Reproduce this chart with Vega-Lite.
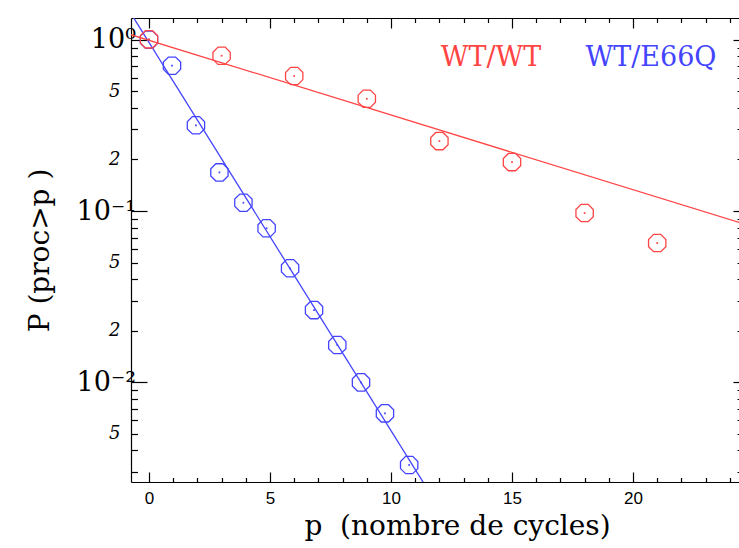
{
  "$schema": "https://vega.github.io/schema/vega-lite/v6.json",
  "width": 608,
  "height": 464,
  "autosize": {"type": "none"},
  "padding": {"left": 131, "top": 18, "right": 0, "bottom": 66},
  "background": "white",
  "config": {"view": {"stroke": null}, "axis": {"grid": false, "domainColor": "black", "tickColor": "black", "labelColor": "black", "titleColor": "black", "domainWidth": 1.2, "tickWidth": 1.2}},
  "datasets": {
    "points": [
      {"p": 0, "P": 1.0, "series": "WT/E66Q"},
      {"p": 0.95, "P": 0.705, "series": "WT/E66Q"},
      {"p": 1.94, "P": 0.3165, "series": "WT/E66Q"},
      {"p": 2.91, "P": 0.168, "series": "WT/E66Q"},
      {"p": 3.9, "P": 0.1118, "series": "WT/E66Q"},
      {"p": 4.86, "P": 0.0793, "series": "WT/E66Q"},
      {"p": 5.83, "P": 0.0463, "series": "WT/E66Q"},
      {"p": 6.82, "P": 0.0264, "series": "WT/E66Q"},
      {"p": 7.78, "P": 0.0165, "series": "WT/E66Q"},
      {"p": 8.76, "P": 0.00999, "series": "WT/E66Q"},
      {"p": 9.75, "P": 0.00659, "series": "WT/E66Q"},
      {"p": 10.75, "P": 0.00329, "series": "WT/E66Q"},
      {"p": 0, "P": 1.005, "series": "WT/WT"},
      {"p": 3, "P": 0.806, "series": "WT/WT"},
      {"p": 6, "P": 0.614, "series": "WT/WT"},
      {"p": 9, "P": 0.4523, "series": "WT/WT"},
      {"p": 12, "P": 0.256, "series": "WT/WT"},
      {"p": 15, "P": 0.193, "series": "WT/WT"},
      {"p": 18, "P": 0.0973, "series": "WT/WT"},
      {"p": 21, "P": 0.065, "series": "WT/WT"}
    ],
    "lines": [
      {"p": -0.75, "P": 1.425, "series": "WT/E66Q"},
      {"p": 11.6, "P": 0.002266, "series": "WT/E66Q"},
      {"p": -0.75, "P": 1.07, "series": "WT/WT"},
      {"p": 24.5, "P": 0.0848, "series": "WT/WT"}
    ],
    "labels": [
      {"p": 14.13, "P": 0.787, "series": "WT/WT"},
      {"p": 20.74, "P": 0.787, "series": "WT/E66Q"}
    ]
  },
  "layer": [
    {
      "data": {"name": "lines"},
      "mark": {"type": "line", "clip": true, "strokeWidth": 1.3},
      "encoding": {
        "x": {"field": "p", "type": "quantitative",
          "scale": {"domain": [-0.744, 24.38], "nice": false, "zero": false},
          "axis": {"orient": "bottom", "title": "p\u00a0\u00a0(nombre de cycles)",
            "values": [0,1,2,3,4,5,6,7,8,9,10,11,12,13,14,15,16,17,18,19,20,21,22,23,24],
            "labelExpr": "datum.value % 5 == 0 ? datum.label : ''",
            "tickSize": {"condition": {"test": "datum.value % 5 == 0", "value": -10}, "value": -4.5},
            "labelPadding": 18, "labelFont": "Liberation Sans", "labelFontSize": 17,
            "titleFont": "DejaVu Serif", "titleFontSize": 28, "titleFontWeight": "normal",
            "titleX": 326, "titleY": 44, "titleBaseline": "middle", "titleAnchor": "middle", "titleAlign": "center"}},
        "y": {"field": "P", "type": "quantitative",
          "scale": {"type": "log", "domain": [0.002618, 1.339], "nice": false},
          "axis": {"orient": "left", "title": "P (proc>p )",
            "values": [0.003,0.004,0.005,0.006,0.007,0.008,0.009,0.01,0.02,0.03,0.04,0.05,0.06,0.07,0.08,0.09,0.1,0.2,0.3,0.4,0.5,0.6,0.7,0.8,0.9,1],
            "labelExpr": "datum.value == 1 ? '10\u2070' : datum.value == 0.1 ? '10\u207b\u00b9' : datum.value == 0.01 ? '10\u207b\u00b2' : (datum.value == 0.5 || datum.value == 0.05 || datum.value == 0.005) ? '5' : (datum.value == 0.2 || datum.value == 0.02) ? '2' : ''",
            "tickSize": {"condition": {"test": "datum.value == 1 || datum.value == 0.1 || datum.value == 0.01", "value": -16}, "value": -6.5},
            "labelFont": "DejaVu Serif",
            "labelFontSize": {"condition": {"test": "datum.value == 1 || datum.value == 0.1 || datum.value == 0.01", "value": 27}, "value": 18},
            "labelFontStyle": {"condition": {"test": "datum.value == 1 || datum.value == 0.1 || datum.value == 0.01", "value": "normal"}, "value": "italic"},
            "labelPadding": {"condition": {"test": "datum.value == 1 || datum.value == 0.1 || datum.value == 0.01", "value": 11.5}, "value": 17.5},
            "labelBaseline": "middle",
            "titleFont": "DejaVu Serif", "titleFontSize": 28, "titleFontWeight": "normal",
            "titleX": -91, "titleY": 232, "titleBaseline": "middle", "titleAnchor": "middle", "titleAlign": "center", "titleAngle": -90}},
        "color": {"field": "series", "type": "nominal", "scale": {"domain": ["WT/WT", "WT/E66Q"], "range": ["#ff4444", "#4444ff"]}, "legend": null},
        "detail": {"field": "series"}
      }
    },
    {
      "data": {"name": "points"},
      "mark": {"type": "point", "filled": false, "strokeWidth": 1.3, "size": 300, "opacity": 1,
        "shape": "M -0.414 -1 L 0.414 -1 L 1 -0.414 L 1 0.414 L 0.414 1 L -0.414 1 L -1 0.414 L -1 -0.414 Z"},
      "encoding": {
        "x": {"field": "p", "type": "quantitative", "axis": {"orient": "top", "labels": false, "title": null, "domain": true,
          "values": [0,1,2,3,4,5,6,7,8,9,10,11,12,13,14,15,16,17,18,19,20,21,22,23,24],
          "tickSize": {"condition": {"test": "datum.value % 5 == 0", "value": -10}, "value": -4.5}}},
        "y": {"field": "P", "type": "quantitative", "axis": {"orient": "right", "labels": false, "title": null, "domain": false,
          "values": [0.003,0.004,0.005,0.006,0.007,0.008,0.009,0.01,0.02,0.03,0.04,0.05,0.06,0.07,0.08,0.09,0.1,0.2,0.3,0.4,0.5,0.6,0.7,0.8,0.9,1],
          "tickSize": {"condition": {"test": "datum.value == 1 || datum.value == 0.1 || datum.value == 0.01", "value": -6}, "value": -2}}},
        "color": {"field": "series", "type": "nominal", "legend": null}
      }
    },
    {
      "data": {"name": "points"},
      "mark": {"type": "point", "filled": true, "size": 3, "shape": "square", "opacity": 1},
      "encoding": {
        "x": {"field": "p", "type": "quantitative", "axis": null},
        "y": {"field": "P", "type": "quantitative", "axis": null},
        "color": {"field": "series", "type": "nominal", "legend": null}
      }
    },
    {
      "data": {"name": "labels"},
      "mark": {"type": "text", "font": "DejaVu Serif", "fontSize": 27, "align": "center", "baseline": "middle"},
      "encoding": {
        "x": {"field": "p", "type": "quantitative", "axis": null},
        "y": {"field": "P", "type": "quantitative", "axis": null},
        "text": {"field": "series"},
        "color": {"field": "series", "type": "nominal", "legend": null}
      }
    }
  ]
}
